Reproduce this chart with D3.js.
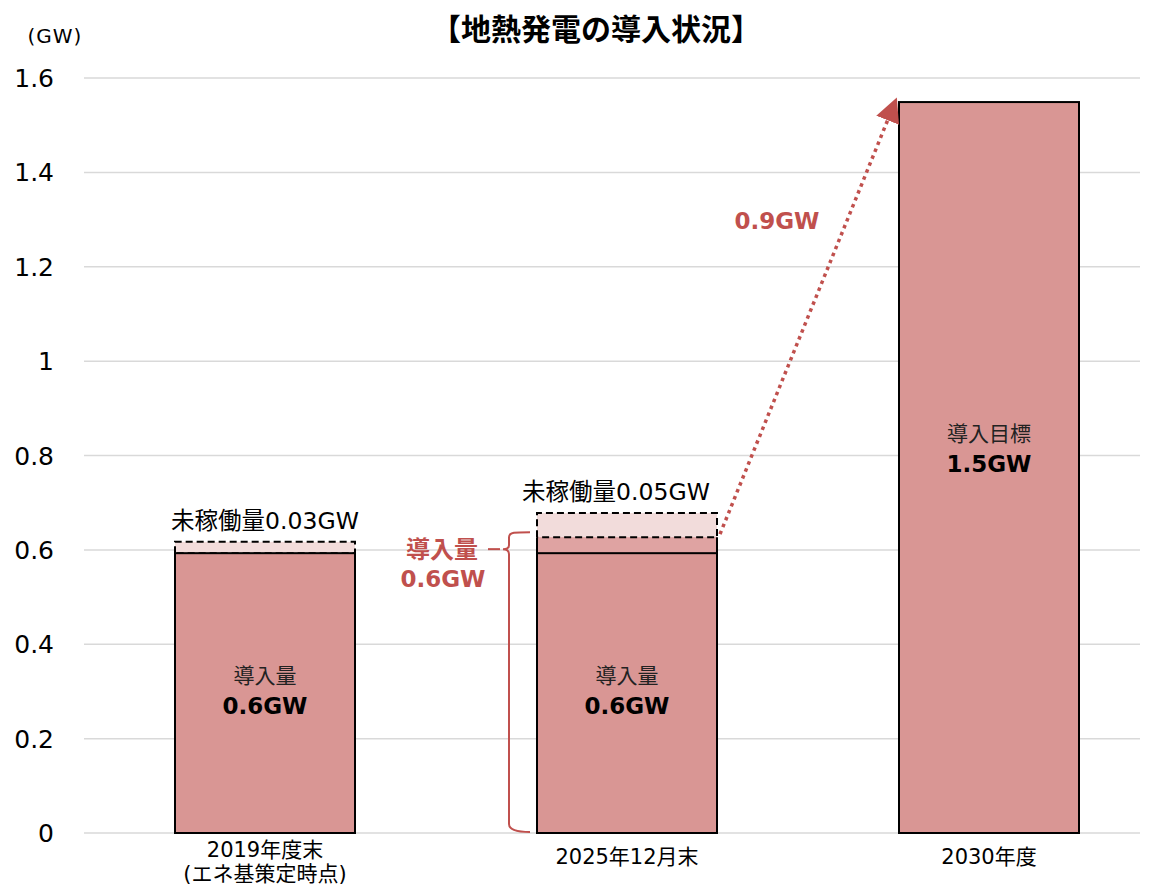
<!DOCTYPE html>
<html><head><meta charset="utf-8">
<script src="https://cdn.jsdelivr.net/npm/d3@7"></script>
<style>
body{margin:0;background:#fff;}
text{font-family:"DejaVu Sans","Noto Sans CJK JP",sans-serif;}
</style></head>
<body><svg id="c" width="1152" height="885"></svg>
<script>
const categories = ["2019年度末", "2025年12月末", "2030年度"];
const catSub = ["(エネ基策定時点)", "", ""];
const baseValues = [0.593, 0.593, 1.549];
const addedValues = [0, 0.034, 0];
const idleValues = [0.024, 0.051, 0];
const yTicks = [0, 0.2, 0.4, 0.6, 0.8, 1, 1.2, 1.4, 1.6];
const yTickLabels = ["0", "0.2", "0.4", "0.6", "0.8", "1", "1.2", "1.4", "1.6"];
const innerTop = ["導入量", "導入量", "導入目標"];
const innerBottom = ["0.6GW", "0.6GW", "1.5GW"];
const idleLabels = ["未稼働量0.03GW", "未稼働量0.05GW", ""];
const title = "【地熱発電の導入状況】";
const unit = "(GW)";
const growthLabel = "0.9GW";
const braceLabel = ["導入量", "0.6GW"];

const innerDy = [-18, -18, -35];   // offset of label block from bar middle (style)
const barColor = "#D99694", midColor = "#DFA3A2", idleColor = "#F2DCDB", red = "#C0504D";
const svg = d3.select("#c");
const y = d3.scaleLinear().domain([0, 1.6]).range([833, 78]);
const p = 182/362;
const x = d3.scaleBand().domain(categories).range([84, 1170]).paddingInner(p).paddingOuter(p/2);

// grid
svg.append("g").selectAll("line").data(yTicks).join("line")
  .attr("x1", 84).attr("x2", 1140).attr("y1", d => y(d)).attr("y2", d => y(d))
  .attr("stroke", "#d9d9d9").attr("stroke-width", 1.5);
svg.append("g").selectAll("text").data(yTicks).join("text")
  .attr("x", 54).attr("y", d => y(d) + 9).attr("text-anchor", "end")
  .attr("font-size", 25).attr("fill", "#000").text((d, i) => yTickLabels[i]);
svg.append("text").attr("x", 55).attr("y", 43).attr("text-anchor", "middle").attr("font-size", 20).attr("letter-spacing", 1).text(unit);
svg.append("text").attr("x", 596).attr("y", 40).attr("text-anchor", "middle").attr("font-size", 30).attr("font-weight", "bold").text(title);

const bw = x.bandwidth();
categories.forEach((c, i) => {
  const x0 = x(c);
  const b = baseValues[i], a = addedValues[i], u = idleValues[i];
  if (u > 0) {
    svg.append("rect").attr("x", x0).attr("y", y(b + a + u)).attr("width", bw).attr("height", y(b + a) - y(b + a + u))
      .attr("fill", idleColor).attr("stroke", "none");
  }
  if (a > 0) {
    svg.append("rect").attr("x", x0).attr("y", y(b + a)).attr("width", bw).attr("height", y(b) - y(b + a))
      .attr("fill", midColor);
    svg.append("path").attr("d", `M${x0},${y(b)}V${y(b+a)}M${x0+bw},${y(b)}V${y(b+a)}`)
      .attr("stroke", "#000").attr("stroke-width", 2);
  }
  if (u > 0) {
    svg.append("path").attr("d", `M${x0},${y(b+a)}V${y(b+a+u)}H${x0+bw}V${y(b+a)}H${x0}`)
      .attr("fill", "none").attr("stroke", "#000").attr("stroke-width", 2).attr("stroke-dasharray", "7,4");
  }
  svg.append("rect").attr("x", x0).attr("y", y(b)).attr("width", bw).attr("height", y(0) - y(b))
    .attr("fill", barColor).attr("stroke", "#000").attr("stroke-width", 2);
  const cx = x0 + bw / 2;
  const my = (y(b) + y(0)) / 2 + innerDy[i];
  svg.append("text").attr("x", cx).attr("y", my + 8).attr("text-anchor", "middle").attr("font-size", 21).attr("fill", "#222").text(innerTop[i]);
  svg.append("text").attr("x", cx).attr("y", my + 39).attr("text-anchor", "middle").attr("font-size", 23).attr("font-weight", "bold").attr("fill", "#000").text(innerBottom[i]);
  if (idleLabels[i]) {
    svg.append("text").attr("x", cx - (i === 1 ? 11 : 0)).attr("y", y(b + a + u) - 13).attr("text-anchor", "middle").attr("font-size", 23.5).attr("fill", "#000").text(idleLabels[i]);
  }
  svg.append("text").attr("x", cx).attr("y", i === 0 ? 857 : 864).attr("text-anchor", "middle").attr("font-size", 21).attr("fill", "#000").text(c);
  if (catSub[i]) svg.append("text").attr("x", cx).attr("y", 881).attr("text-anchor", "middle").attr("font-size", 21).attr("fill", "#000").text(catSub[i]);
});

// arrow
const bx1 = x(categories[1]) + bw, bx2 = x(categories[2]);
const defs = svg.append("defs");
defs.append("marker").attr("id", "ah").attr("viewBox", "0 0 10 10").attr("refX", 8).attr("refY", 5)
  .attr("markerWidth", 7).attr("markerHeight", 7).attr("orient", "auto").attr("markerUnits", "strokeWidth")
  .append("path").attr("d", "M0,0L10,5L0,10Z").attr("fill", red);
const s0 = baseValues[1] + addedValues[1];
svg.append("line").attr("x1", bx1 + 3).attr("y1", y(s0) - 3).attr("x2", bx2 - 4).attr("y2", y(baseValues[2]))
  .attr("stroke", red).attr("stroke-width", 3.5).attr("stroke-dasharray", "3.5,4").attr("marker-end", "url(#ah)");
svg.append("text").attr("x", 777).attr("y", 229).attr("text-anchor", "middle").attr("font-size", 23).attr("font-weight", "bold").attr("fill", red).text(growthLabel);

// brace
const bt = y(s0) - 5, bb = y(0) - 1, bxv = 509, bm = y(s0) + 12;
svg.append("path").attr("d",
  `M530,${bt} C515,${bt} 509,${bt} ${bxv},${bt+5} L${bxv},${bm-4} Q${bxv},${bm} 503,${bm} Q${bxv},${bm} ${bxv},${bm+5} L${bxv},${bb-8} Q${bxv},${bb} 530,${bb}`)
  .attr("fill", "none").attr("stroke", red).attr("stroke-width", 2);
svg.append("line").attr("x1", 488).attr("x2", 500).attr("y1", bm).attr("y2", bm).attr("stroke", red).attr("stroke-width", 2);
svg.append("text").attr("x", 442).attr("y", bm + 9).attr("text-anchor", "middle").attr("font-size", 24).attr("font-weight", "bold").attr("fill", red).text(braceLabel[0]);
svg.append("text").attr("x", 443).attr("y", bm + 38).attr("text-anchor", "middle").attr("font-size", 23).attr("font-weight", "bold").attr("fill", red).text(braceLabel[1]);
</script></body></html>
